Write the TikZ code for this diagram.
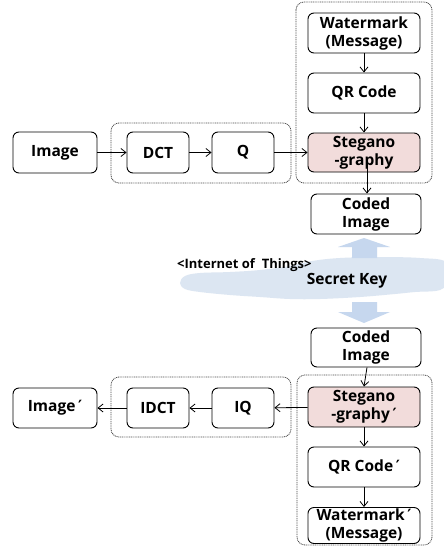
\documentclass[tikz,border=0pt]{standalone}
\usepackage{fontspec}
\setmainfont{Open Sans}
\newfontfamily\primefont{DejaVu Sans}
\newcommand{\pri}{{\primefont\bfseries ′}}
\usetikzlibrary{arrows.meta}
\definecolor{stegfill}{HTML}{F2DCDB}
\definecolor{cloudfill}{HTML}{DCE6F2}
\definecolor{netarrow}{HTML}{C6D7EE}
\tikzset{
  box/.style={draw=black, line width=0.9pt, rounded corners=6pt, fill=white,
    align=center, inner sep=0pt, font=\bfseries\fontsize{15.5}{18}\selectfont},
  steg/.style={box, fill=stegfill},
  group/.style={draw=black!70, line width=0.8pt, dash pattern=on 1pt off 0.8pt,
    rounded corners=8pt},
  flow/.style={draw=black, line width=0.8pt, -{Straight Barb[length=5pt,width=8pt]}},
}
\begin{document}
\begin{tikzpicture}[x=1pt,y=-1pt]
\useasboundingbox[fill=white] (0,0) rectangle (444,560);

% Internet of Things cloud and the key transfer arrows
\fill[cloudfill] plot[smooth cycle, tension=0.6] coordinates {
  (180,283) (185,276) (200,273) (230,272) (260,270) (290,266) (312,261)
  (340,258) (380,257) (420,258) (446,262) (448,280) (440,290) (415,292)
  (395,294) (360,297) (320,299) (290,299) (260,297) (230,295) (200,292) (185,289)};
\fill[netarrow] (352,258) -- (352,247) -- (338,247) -- (364,238) -- (390,247)
  -- (377,247) -- (377,258) -- cycle;
\fill[netarrow] (352,302) -- (352,312) -- (338,312) -- (364,323) -- (390,312)
  -- (377,312) -- (377,302) -- cycle;
\node[anchor=base west, font=\bfseries\fontsize{13}{15}\selectfont, inner sep=0pt]
  (iot) at (177,268) {<Internet of\ \ Things>};
\node[font=\bfseries\fontsize{15.5}{18}\selectfont, inner sep=0pt] (key) at (347,281) {Secret Key};

% encoding side
\node[box, minimum width=84pt, minimum height=41pt] (img) at (55,152.5) {Image};
\node[box, minimum width=62pt, minimum height=41pt] (dct) at (158,152.5) {DCT};
\node[box, minimum width=62pt, minimum height=41pt] (q) at (243,152.5) {Q};
\node[box, minimum width=112pt, minimum height=40pt] (wm) at (364,33) {Watermark\\(Message)};
\node[box, minimum width=112pt, minimum height=40pt] (qr) at (364,93) {QR Code};
\node[steg, minimum width=112pt, minimum height=39pt] (st) at (364,152.5) {Stegano\\-graphy};
\node[box, minimum width=110pt, minimum height=40pt] (coded) at (366,214) {Coded\\Image};

\coordinate (g1a) at (111,123); \coordinate (g1b) at (291,183);
\coordinate (g2a) at (296,2);   \coordinate (g2b) at (432,183);
\draw[group] (g1a) rectangle (g1b);
\draw[group] (g2a) rectangle (g2b);

\draw[flow] (img) -- (dct);
\draw[flow] (dct) -- (q);
\draw[flow] (q) -- (st);
\draw[flow] (wm) -- (qr);
\draw[flow] (qr) -- (st);
\draw[flow] ([xshift=3pt,yshift=12pt]st.south) -- ([xshift=1pt]coded.north);

% decoding side
\node[box, minimum width=110pt, minimum height=39pt] (coded2) at (366,347.5) {Coded\\Image};
\node[steg, minimum width=112pt, minimum height=40pt] (st2) at (364,407) {Stegano\\-graphy\,\pri};
\node[box, minimum width=112pt, minimum height=40pt] (qr2) at (364,467) {QR Code\,\pri};
\node[box, minimum width=112pt, minimum height=36pt] (wm2) at (364,525.5) {Watermark\,\pri\\(Message)};
\node[box, minimum width=84pt, minimum height=40pt] (img2) at (55,408) {Image\,\pri};
\node[box, minimum width=62pt, minimum height=40pt] (idct) at (158,408) {IDCT};
\node[box, minimum width=62pt, minimum height=40pt] (iq) at (243,408) {IQ};

\coordinate (g3a) at (111,377); \coordinate (g3b) at (291,437);
\coordinate (g4a) at (297,375); \coordinate (g4b) at (432,545);
\draw[group] (g3a) rectangle (g3b);
\draw[group] (g4a) rectangle (g4b);

\draw[flow] ([xshift=1pt]coded2.south) -- (st2.north);
\draw[flow] (st2) -- (qr2);
\draw[flow] (qr2) -- (wm2);
\draw[flow] (st2) -- (iq);
\draw[flow] (iq) -- (idct);
\draw[flow] (idct) -- (img2);
\end{tikzpicture}
\end{document}
